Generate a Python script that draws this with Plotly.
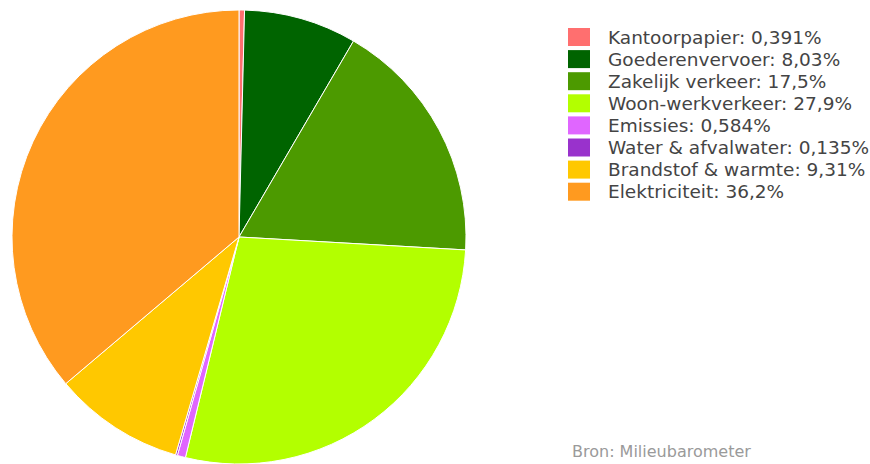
import plotly.graph_objects as go

labels = ["Kantoorpapier", "Goederenvervoer", "Zakelijk verkeer", "Woon-werkverkeer",
          "Emissies", "Water & afvalwater", "Brandstof & warmte", "Elektriciteit"]
values = [0.391, 8.03, 17.5, 27.9, 0.584, 0.135, 9.31, 36.2]
value_text = ["0,391%", "8,03%", "17,5%", "27,9%", "0,584%", "0,135%", "9,31%", "36,2%"]
colors = ["#ff6f6f", "#006400", "#4c9a00", "#b3ff00", "#e066ff", "#9932cc", "#ffc800", "#ff9a1f"]
source = "Bron: Milieubarometer"

W, H = 870, 464
fig = go.Figure()
fig.add_trace(go.Pie(
    labels=labels, values=values, sort=False, direction="clockwise", rotation=0,
    marker=dict(colors=colors, line=dict(color="white", width=1)),
    textinfo="none", hoverinfo="label+percent", showlegend=False,
    domain=dict(x=[10 / W, 468 / W], y=[0, 1 - 10 / H]),
))

shapes = []
annotations = []
top = 37
step = 22.1
for i, (lab, col, vt) in enumerate(zip(labels, colors, value_text)):
    yc = top + i * step
    shapes.append(dict(type="rect", xref="paper", yref="paper",
                       x0=568 / W, x1=590 / W, y0=1 - (yc - 9) / H, y1=1 - (yc + 9) / H,
                       fillcolor=col, line=dict(width=0)))
    annotations.append(dict(text=f"{lab}: {vt}", xref="paper", yref="paper",
                            x=606 / W, y=1 - yc / H, xanchor="left", yanchor="middle",
                            showarrow=False, font=dict(size=18.5, color="#444",
                                                       family="DejaVu Sans")))
annotations.append(dict(text=source, xref="paper", yref="paper", x=570 / W, y=1 - 451 / H,
                        xanchor="left", yanchor="middle", showarrow=False,
                        font=dict(size=16, color="#9a9a9a", family="DejaVu Sans")))

fig.update_layout(width=W, height=H, margin=dict(l=0, r=0, t=0, b=0),
                  paper_bgcolor="white", plot_bgcolor="white",
                  shapes=shapes, annotations=annotations)
fig.write_html("out.html")
